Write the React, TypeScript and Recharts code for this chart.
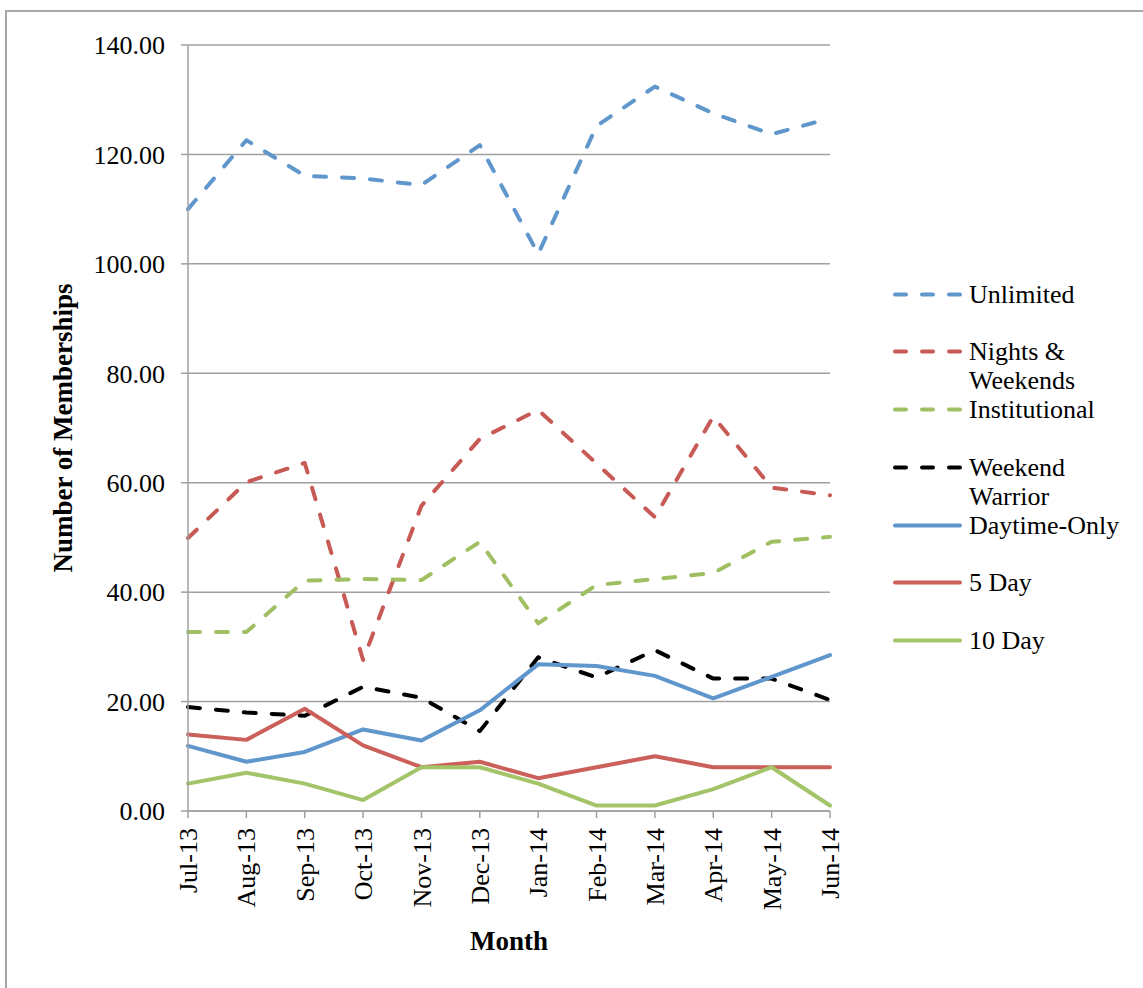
import React from 'react';
import { LineChart, Line, XAxis, YAxis, CartesianGrid, Legend, Label } from 'recharts';

const months = ['Jul-13', 'Aug-13', 'Sep-13', 'Oct-13', 'Nov-13', 'Dec-13', 'Jan-14', 'Feb-14', 'Mar-14', 'Apr-14', 'May-14', 'Jun-14'];
const unlimited = [110.0, 122.6, 116.1, 115.6, 114.4, 121.7, 101.8, 125.2, 132.4, 127.5, 123.7, 126.6];
const nightsWeekends = [49.9, 60.1, 63.6, 27.6, 55.8, 68.0, 73.3, 63.5, 53.7, 72.1, 59.1, 57.7];
const institutional = [32.7, 32.7, 42.1, 42.4, 42.2, 49.2, 34.3, 41.3, 42.4, 43.5, 49.2, 50.1];
const weekendWarrior = [19.0, 18.0, 17.4, 22.7, 20.7, 14.6, 28.1, 24.4, 29.4, 24.2, 24.2, 20.3];
const daytimeOnly = [11.9, 9.0, 10.8, 14.9, 12.9, 18.4, 26.8, 26.5, 24.7, 20.6, 24.5, 28.5];
const fiveDay = [14, 13, 18.7, 12, 8, 9, 6, 8, 10, 8, 8, 8];
const tenDay = [5, 7, 5, 2, 8, 8, 5, 1, 1, 4, 8, 1];
const yTicks = [0, 20, 40, 60, 80, 100, 120, 140];

const seriesNames = ['Unlimited', 'Nights & Weekends', 'Institutional', 'Weekend Warrior', 'Daytime-Only', '5 Day', '10 Day'];
const seriesKeys = ['unlimited', 'nightsWeekends', 'institutional', 'weekendWarrior', 'daytimeOnly', 'fiveDay', 'tenDay'];
const seriesColors = ['#5F96CC', '#C75A55', '#A0BF63', '#000000', '#5F96CC', '#CB5F59', '#A3C468'];
const seriesDashed = [true, true, true, true, false, false, false];

const data = months.map((m, i) => ({
  month: m,
  unlimited: unlimited[i],
  nightsWeekends: nightsWeekends[i],
  institutional: institutional[i],
  weekendWarrior: weekendWarrior[i],
  daytimeOnly: daytimeOnly[i],
  fiveDay: fiveDay[i],
  tenDay: tenDay[i],
}));

const FONT = '"Liberation Serif", "Times New Roman", serif';
const GRID = '#A0A0A0';
const DASH = '12 16';
const SW = 4;

const XTick = (props: any) => {
  const { x, y, payload } = props;
  return (
    <g transform={`translate(${x},${y + 8})`}>
      <text x={0} y={0} dy="0.35em" transform="rotate(-90)" textAnchor="end" fontFamily={FONT} fontSize={26} fill="#000">
        {payload.value}
      </text>
    </g>
  );
};

const LegendContent = () => (
  <div style={{ fontFamily: FONT, fontSize: 26, color: '#000' }}>
    {seriesNames.map((name, i) => (
      <div key={name} style={{ height: 57.8, display: 'flex', alignItems: 'flex-start' }}>
        <svg width={69} height={29} style={{ flex: 'none' }}>
          <line
            x1={2}
            x2={67}
            y1={14.5}
            y2={14.5}
            stroke={seriesColors[i]}
            strokeWidth={SW}
            strokeLinecap="round"
            strokeDasharray={seriesDashed[i] ? '11 16' : undefined}
          />
        </svg>
        <div style={{ marginLeft: 7, width: 175, lineHeight: '29px' }}>{name}</div>
      </div>
    ))}
  </div>
);

export default function App() {
  return (
    <div
      style={{
        position: 'absolute',
        left: 5,
        top: 10,
        width: 1160,
        height: 1000,
        borderLeft: '2px solid #A8A8A8',
        borderTop: '2px solid #A8A8A8',
        background: '#fff',
      }}
    >
      <LineChart width={1136} height={976} data={data} margin={{ top: 33, right: 313, bottom: 0, left: 0 }}>
        <CartesianGrid horizontal={true} vertical={false} stroke={GRID} strokeWidth={1.5} />
        <XAxis
          dataKey="month"
          interval={0}
          height={177}
          tick={<XTick />}
          tickSize={7}
          tickLine={{ stroke: GRID, strokeWidth: 1.5 }}
          axisLine={{ stroke: GRID, strokeWidth: 1.5 }}
        >
          <Label
            content={(p: any) => {
              const vb = p.viewBox;
              return (
                <text x={vb.x + vb.width / 2} y={vb.y + 130} dy="0.35em" textAnchor="middle" fontFamily={FONT} fontSize={27} fontWeight="bold" fill="#000">
                  Month
                </text>
              );
            }}
          />
        </XAxis>
        <YAxis
          width={181}
          domain={[0, 140]}
          ticks={yTicks}
          interval={0}
          tickFormatter={(v: number) => v.toFixed(2)}
          tick={{ fontFamily: FONT, fontSize: 26, fill: '#000' }}
          tickSize={7}
          tickMargin={16}
          tickLine={{ stroke: GRID, strokeWidth: 1.5 }}
          axisLine={{ stroke: GRID, strokeWidth: 1.5 }}
        >
          <Label
            content={(p: any) => {
              const vb = p.viewBox;
              const cx = 56;
              const cy = vb.y + vb.height / 2;
              return (
                <text x={cx} y={cy} dy="0.35em" transform={`rotate(-90, ${cx}, ${cy})`} textAnchor="middle" fontFamily={FONT} fontSize={27} fontWeight="bold" fill="#000">
                  Number of Memberships
                </text>
              );
            }}
          />
        </YAxis>
        <Legend
          layout="vertical"
          align="center"
          verticalAlign="middle"
          content={<LegendContent />}
          wrapperStyle={{ position: 'absolute', left: 886, top: 267.5, width: 260, height: 410 }}
        />
        {seriesKeys.map((k, i) => (
          <Line
            key={k}
            type="linear"
            dataKey={k}
            name={seriesNames[i]}
            stroke={seriesColors[i]}
            strokeWidth={SW}
            strokeDasharray={seriesDashed[i] ? DASH : undefined}
            strokeLinecap="round"
            strokeLinejoin="round"
            dot={false}
            activeDot={false}
            isAnimationActive={false}
          />
        ))}
      </LineChart>
    </div>
  );
}
